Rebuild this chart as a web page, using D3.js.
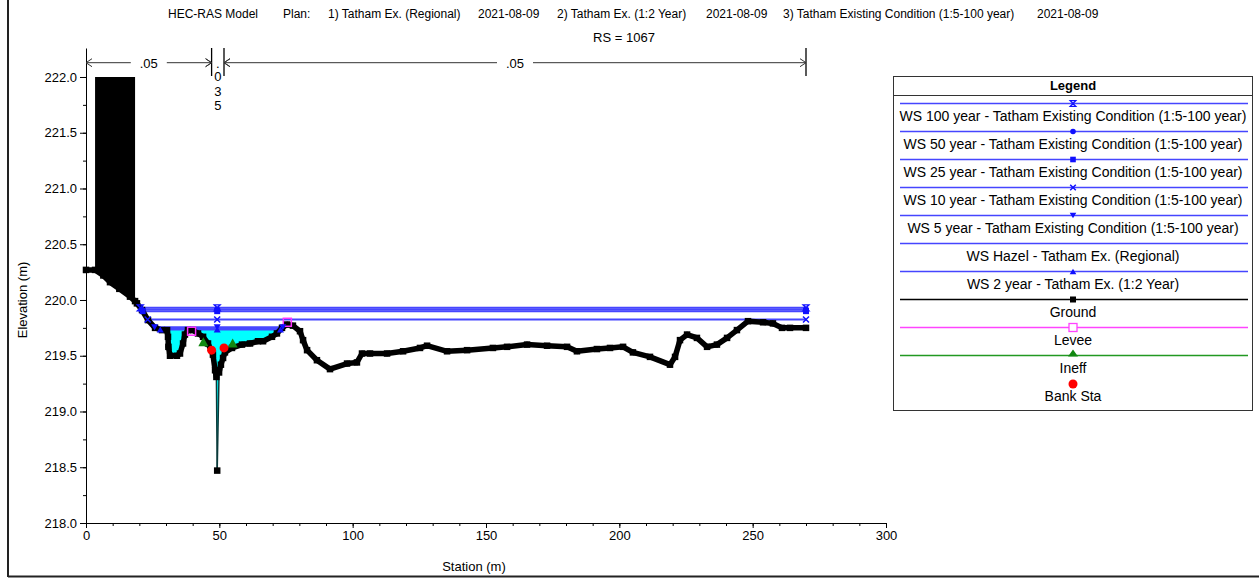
<!DOCTYPE html>
<html><head><meta charset="utf-8">
<script src="https://cdn.jsdelivr.net/npm/d3@7"></script>
<style>
body{margin:0;background:#fff}
svg{display:block;font-family:"Liberation Sans",Arial,sans-serif}
</style>
</head><body>
<svg id="c" width="1259" height="578"></svg>
<script>
// ---------- DATA ----------
const groundSta  = [0,3.4,6.5,9.0,12.5,16.5,18.4,19.1,21.0,23.25,25.9,28.5,30.4,30.75,30.9,31.5,34.1,35.25,36.4,37.1,38.25,40.1,42.0,43.9,45.75,47.6,48.4,48.9,49.2,49.9,50.6,51.4,52.1,54.75,58.5,61.5,64.5,66.4,69.75,71.6,73.5,75.4,77.6,80.25,81.4,82.9,86.6,91.5,97.9,101.6,103.5,106.5,112.9,118.9,125.25,127.9,135.4,142.9,152.6,157.9,165.4,172.9,180.4,184.1,191.6,196.5,201.4,205.1,211.5,219.0,220.9,222.75,225.4,229.1,232.9,236.6,240.4,244.1,248.25,253.9,257.6,261.0,264.0,270.0];
const groundElev = [220.27,220.27,220.22,220.16,220.10,220.03,219.99,219.97,219.91,219.82,219.75,219.73,219.73,219.67,219.58,219.50,219.50,219.52,219.61,219.69,219.73,219.73,219.70,219.67,219.61,219.51,219.37,219.31,218.47,219.35,219.42,219.48,219.53,219.57,219.60,219.61,219.63,219.63,219.67,219.70,219.75,219.78,219.77,219.72,219.64,219.55,219.46,219.38,219.43,219.44,219.52,219.52,219.52,219.54,219.57,219.59,219.54,219.55,219.57,219.58,219.60,219.59,219.58,219.54,219.56,219.57,219.58,219.53,219.49,219.42,219.49,219.64,219.69,219.66,219.58,219.60,219.66,219.73,219.81,219.80,219.79,219.75,219.75,219.75];

const wsNames   = ["WS 100 year - Tatham Existing Condition (1:5-100 year)","WS 50 year - Tatham Existing Condition (1:5-100 year)","WS 25 year - Tatham Existing Condition (1:5-100 year)","WS 10 year - Tatham Existing Condition (1:5-100 year)","WS 5 year - Tatham Existing Condition (1:5-100 year)","WS Hazel - Tatham Ex. (Regional)","WS 2 year - Tatham Ex. (1:2 Year)"];
const wsElev    = [219.93,219.915,219.90,219.825,219.755,219.745,219.735];
const wsMarkers = ["hourglass","circle","square","x","triDown","none","triUp"];

const bankSta  = [47.1,51.75];  const bankElev  = [219.55,219.57];
const ineffSta = [44.0,55.0];   const ineffElev = [219.62,219.61];
const leveeSta = [39.6,75.5];   const leveeElev = [219.72,219.80];
const obstrSta = [3.4,18.4];    const obstrTop  = 222.0;

const nBreaks = [0,47.1,51.75,270];
const nValues = [".05",".035",".05"];

const xTicks = [0,50,100,150,200,250,300];
const xMinor = d3.range(0,301,10);
const yTicks = [218.0,218.5,219.0,219.5,220.0,220.5,221.0,221.5,222.0];
const yMinor = d3.range(218,222.01,0.25);

const otherLegend = ["Ground","Levee","Ineff","Bank Sta"];
const titleParts = ["HEC-RAS Model","Plan:","1) Tatham Ex. (Regional)","2021-08-09","2) Tatham Ex. (1:2 Year)","2021-08-09","3) Tatham Existing Condition (1:5-100 year)","2021-08-09"];
const titleX     = [168,283,328,478,557,706,783,1037];
const subtitle = "RS = 1067";

// ---------- SETUP ----------
const svg = d3.select("#c");
const x = d3.scaleLinear().domain([0,300]).range([86,886]);
const y = d3.scaleLinear().domain([218,222.26]).range([523,48]);
const WS_COL = "#4646ff", CYAN = "#00ffff";

// frame
svg.append("line").attr("x1",8).attr("x2",8).attr("y1",0).attr("y2",577).attr("stroke","#222").attr("stroke-width",2);
svg.append("line").attr("x1",8).attr("x2",1259).attr("y1",576.5).attr("y2",576.5).attr("stroke","#222").attr("stroke-width",2);

// titles
svg.append("g").selectAll("text").data(titleParts).join("text")
  .attr("x",(d,i)=>titleX[i]).attr("y",18).attr("font-size",12).attr("fill","#000").text(d=>d);
svg.append("text").attr("x",624).attr("y",42).attr("text-anchor","middle").attr("font-size",13).text(subtitle);

// axes
const ax = svg.append("g").attr("transform","translate(0,523)")
  .call(d3.axisBottom(x).tickValues(xTicks).tickSize(5).tickSizeOuter(0).tickFormat(d3.format("d")));
svg.append("g").attr("transform","translate(0,523)")
  .call(d3.axisBottom(x).tickValues(xMinor).tickSize(3).tickFormat("")).select(".domain").remove();
const ay = svg.append("g").attr("transform","translate(86,0)")
  .call(d3.axisLeft(y).tickValues(yTicks).tickSize(6).tickSizeOuter(0).tickFormat(d3.format(".1f")));
svg.append("g").attr("transform","translate(86,0)")
  .call(d3.axisLeft(y).tickValues(yMinor).tickSize(3).tickFormat("")).select(".domain").remove();
svg.selectAll(".tick text").attr("font-size",13).attr("font-family","Liberation Sans, Arial, sans-serif").attr("fill","#000");
ay.selectAll(".tick text").attr("x",-9);
ax.selectAll(".tick text").attr("y",8);
svg.selectAll(".domain,.tick line").attr("stroke","#000");

svg.append("text").attr("x",474).attr("y",571).attr("text-anchor","middle").attr("font-size",13).text("Station (m)");
svg.append("text").attr("transform","translate(27,300) rotate(-90)").attr("text-anchor","middle").attr("font-size",13).text("Elevation (m)");

// helpers
const n = groundSta.length;
const iMin = d3.minIndex(groundElev);
function interp(a,b,e){ return groundSta[a] + (e-groundElev[a])/(groundElev[b]-groundElev[a])*(groundSta[b]-groundSta[a]); }
function extent(e){
  let L = groundSta[0], R = groundSta[n-1];
  for(let i=iMin;i>0;i--){ if(groundElev[i-1]>=e){ L=interp(i-1,i,e); break; } }
  for(let i=iMin;i<n-1;i++){ if(groundElev[i+1]>=e){ R=interp(i,i+1,e); break; } }
  return [L,R];
}
function groundAt(s){
  for(let i=0;i<n-1;i++){ if(s>=groundSta[i] && s<=groundSta[i+1]){
    const t=(s-groundSta[i])/(groundSta[i+1]-groundSta[i]); return groundElev[i]+t*(groundElev[i+1]-groundElev[i]); } }
  return groundElev[n-1];
}

// water fill for lowest profile
{
  const e = d3.min(wsElev);
  const [L,R] = extent(e);
  const pts = [[L,e]];
  groundSta.forEach((s,i)=>{ if(s>L && s<R) pts.push([s,groundElev[i]]); });
  pts.push([R,e]);
  svg.append("path").datum(pts)
    .attr("d", d3.area().x(d=>x(d[0])).y0(d=>y(d[1])).y1(y(e)))
    .attr("fill",CYAN).attr("stroke","none");
}

// WS lines
const wsG = svg.append("g");
wsElev.forEach((e,k)=>{
  const [L,R] = extent(e);
  wsG.append("line").attr("x1",x(L)).attr("x2",x(R)).attr("y1",y(e)).attr("y2",y(e))
    .attr("stroke",WS_COL).attr("stroke-width",2);
});

// obstruction block
{
  const pts = [[obstrSta[0],groundAt(obstrSta[0])]];
  groundSta.forEach((s,i)=>{ if(s>obstrSta[0] && s<obstrSta[1]) pts.push([s,groundElev[i]]); });
  pts.push([obstrSta[1],groundAt(obstrSta[1])]);
  svg.append("path").datum(pts)
    .attr("d", d3.area().x(d=>x(d[0])).y0(d=>y(d[1])).y1(y(obstrTop)))
    .attr("fill","#000");
}

// ground: thick where points are dense, thin along the deep slot
const gpts = groundSta.map((s,i)=>[s,groundElev[i]]);
const gLine = d3.line().x(d=>x(d[0])).y(d=>y(d[1]));
const segs = d3.pairs(gpts);
svg.append("g").selectAll("path").data(segs).join("path")
  .attr("d",d=>gLine(d))
  .attr("fill","none").attr("stroke",d=>Math.abs(d[0][1]-d[1][1])>0.5?"#0a3a3a":"#000")
  .attr("stroke-width",d=>Math.abs(d[0][1]-d[1][1])>0.5?1.5:5.5)
  .attr("stroke-linecap","round");
svg.append("g").selectAll("rect").data(gpts).join("rect")
  .attr("x",d=>x(d[0])-3.25).attr("y",d=>y(d[1])-3.25).attr("width",6.5).attr("height",6.5).attr("fill","#000");

// marker drawing
function marker(g,type,cx,cy,col,s){
  s = s||3;
  if(type==="circle") g.append("circle").attr("cx",cx).attr("cy",cy).attr("r",s).attr("fill",col);
  else if(type==="square") g.append("rect").attr("x",cx-s).attr("y",cy-s).attr("width",2*s).attr("height",2*s).attr("fill",col);
  else if(type==="hourglass") g.append("path").attr("d",`M${cx-s},${cy-s}H${cx+s}L${cx-s},${cy+s}H${cx+s}Z`).attr("fill","none").attr("stroke",col).attr("stroke-width",1.3);
  else if(type==="x") g.append("path").attr("d",`M${cx-s},${cy-s}L${cx+s},${cy+s}M${cx+s},${cy-s}L${cx-s},${cy+s}`).attr("stroke",col).attr("stroke-width",1.5);
  else if(type==="triDown") g.append("path").attr("d",`M${cx-s-0.5},${cy-s}H${cx+s+0.5}L${cx},${cy+s}Z`).attr("fill",col);
  else if(type==="triUp") g.append("path").attr("d",`M${cx-s-0.5},${cy+s}H${cx+s+0.5}L${cx},${cy-s}Z`).attr("fill",col);
}

// levees
leveeSta.forEach((s,i)=>svg.append("rect").attr("x",x(s)-4).attr("y",y(leveeElev[i])-4).attr("width",8).attr("height",8)
  .attr("fill","none").attr("stroke","#ff33ff").attr("stroke-width",1.5));
// ineff
ineffSta.forEach((s,i)=>{ const cx=x(s), cy=y(ineffElev[i]);
  svg.append("path").attr("d",`M${cx-5},${cy+4}H${cx+5}L${cx},${cy-5}Z`).attr("fill","#118811"); });
// bank stations
bankSta.forEach((s,i)=>svg.append("circle").attr("cx",x(s)).attr("cy",y(bankElev[i])).attr("r",4.5).attr("fill","#ff0000"));

// WS markers
const wm = svg.append("g");
wsElev.forEach((e,k)=>{
  const [L,R] = extent(e);
  [L, groundSta[iMin], R].forEach(s=>marker(wm,wsMarkers[k],x(s),y(e),"#1010ff",3));
});

// Manning's n annotation
{
  const g = svg.append("g").attr("stroke","#333").attr("stroke-width",1).attr("fill","none");
  const ay0 = 62.7;
  nBreaks.forEach(s=>{ if(s>0) g.append("line").attr("x1",x(s)).attr("x2",x(s)).attr("y1",48).attr("y2",76).attr("stroke","#000").attr("stroke-width",1.3); });
  nValues.forEach((v,i)=>{
    const a=x(nBreaks[i]), b=x(nBreaks[i+1]);
    if(b-a>40){
      const m=(a+b)/2, w=v.length*4+6;
      g.append("line").attr("x1",a).attr("x2",m-w).attr("y1",ay0).attr("y2",ay0);
      g.append("line").attr("x1",m+w).attr("x2",b).attr("y1",ay0).attr("y2",ay0);
      g.append("path").attr("d",`M${a+6},${ay0-4}L${a},${ay0}L${a+6},${ay0+4}`);
      g.append("path").attr("d",`M${b-6},${ay0-4}L${b},${ay0}L${b-6},${ay0+4}`);
      svg.append("text").attr("x",m).attr("y",ay0+5).attr("text-anchor","middle").attr("font-size",13).text(v);
    } else {
      const m=(a+b)/2;
      g.append("path").attr("d",`M${a-6},${ay0-4}L${a},${ay0}L${a-6},${ay0+4}`);
      g.append("path").attr("d",`M${b+6},${ay0-4}L${b},${ay0}L${b+6},${ay0+4}`);
      v.split("").forEach((c,j)=>svg.append("text").attr("x",m).attr("y",(c==="."?68:81)+ (c==="."?0:(j-1)*14.5)).attr("text-anchor","middle").attr("font-size",13).text(c));
    }
  });
}

// Legend
{
  const lg = svg.append("g");
  lg.append("rect").attr("x",893.5).attr("y",76.5).attr("width",359).attr("height",334).attr("fill","#fff").attr("stroke","#333");
  lg.append("line").attr("x1",893.5).attr("x2",1252.5).attr("y1",95.5).attr("y2",95.5).attr("stroke","#333");
  lg.append("text").attr("x",1073).attr("y",89.5).attr("text-anchor","middle").attr("font-size",13).attr("font-weight","bold").text("Legend");
  const x1=900, x2=1248, cx=1073;
  const rowY = i => 103.5 + i*28;
  wsNames.forEach((nm,i)=>{
    lg.append("line").attr("x1",x1).attr("x2",x2).attr("y1",rowY(i)).attr("y2",rowY(i)).attr("stroke",WS_COL).attr("stroke-width",1.5);
    marker(lg,wsMarkers[i],cx,rowY(i),"#1010ff",2.8);
    lg.append("text").attr("x",cx).attr("y",rowY(i)+17).attr("text-anchor","middle").attr("font-size",14).text(nm);
  });
  const b = wsNames.length;
  lg.append("line").attr("x1",x1).attr("x2",x2).attr("y1",rowY(b)).attr("y2",rowY(b)).attr("stroke","#000").attr("stroke-width",1.5);
  lg.append("rect").attr("x",cx-3).attr("y",rowY(b)-3).attr("width",6).attr("height",6).attr("fill","#000");
  lg.append("line").attr("x1",x1).attr("x2",x2).attr("y1",rowY(b+1)).attr("y2",rowY(b+1)).attr("stroke","#ff44ff").attr("stroke-width",1.5);
  lg.append("rect").attr("x",cx-4).attr("y",rowY(b+1)-4).attr("width",8).attr("height",8).attr("fill","#fff").attr("stroke","#ff44ff").attr("stroke-width",1.3);
  lg.append("line").attr("x1",x1).attr("x2",x2).attr("y1",rowY(b+2)).attr("y2",rowY(b+2)).attr("stroke","#229922").attr("stroke-width",1.5);
  lg.append("path").attr("d",`M${cx-5},${rowY(b+2)+1}H${cx+5}L${cx},${rowY(b+2)-6}Z`).attr("fill","#118811");
  lg.append("circle").attr("cx",cx).attr("cy",rowY(b+3)+0.5).attr("r",4.5).attr("fill","#ff0000");
  otherLegend.forEach((nm,j)=>lg.append("text").attr("x",cx).attr("y",rowY(b+j)+17).attr("text-anchor","middle").attr("font-size",14).text(nm));
}
</script>
</body></html>
